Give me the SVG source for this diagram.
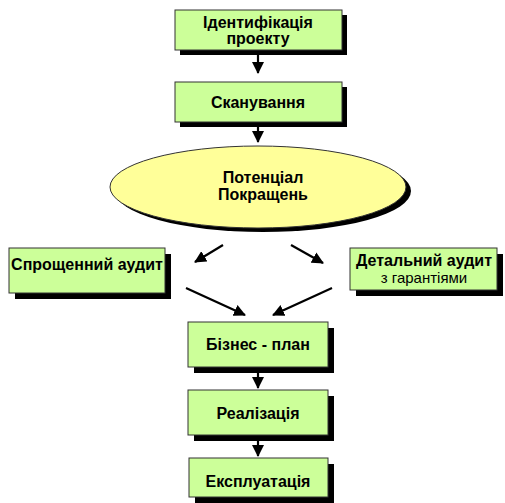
<svg xmlns="http://www.w3.org/2000/svg" width="505" height="503" viewBox="0 0 505 503">
<defs>
<style>
.box{fill:#ccff99;stroke:#333;stroke-width:1}
.ell{fill:#ffff99;stroke:#333;stroke-width:1}
.sh{fill:#000}
.t{font-family:"Liberation Sans",Arial,sans-serif;font-size:16px;font-weight:bold;fill:#000;text-anchor:middle}
.r{font-family:"Liberation Sans",Arial,sans-serif;font-size:15px;fill:#000;text-anchor:middle}
.c{stroke:#000;stroke-width:2.2;fill:none;marker-end:url(#ah)}
</style>
<marker id="ah" markerUnits="userSpaceOnUse" markerWidth="12" markerHeight="12" viewBox="0 0 12 12" refX="11" refY="6" orient="auto">
<path d="M0,0 L12,6 L0,12 Z" fill="#000"/>
</marker>
</defs>
<g id="connectors">
<line class="c" x1="258" y1="55" x2="258" y2="73"/>
<line class="c" x1="258" y1="127" x2="258" y2="142"/>
<line class="c" x1="223" y1="245" x2="195" y2="262"/>
<line class="c" x1="291" y1="245" x2="323" y2="263"/>
<line class="c" x1="186" y1="288" x2="245" y2="315"/>
<line class="c" x1="332" y1="288" x2="273" y2="315"/>
<line class="c" x1="258" y1="372" x2="258" y2="388"/>
<line class="c" x1="258" y1="441" x2="258" y2="456"/>
</g>
<g id="n1">
<rect class="sh" x="180" y="15" width="167" height="40"/>
<rect class="box" x="175" y="10" width="167" height="40"/>
<text class="t" x="258" y="28">Ідентифікація</text>
<text class="t" x="258" y="44">проекту</text>
</g>
<g id="n2">
<rect class="sh" x="180" y="87" width="167" height="40"/>
<rect class="box" x="175" y="82" width="167" height="40"/>
<text class="t" x="258" y="108">Сканування</text>
</g>
<g id="n3">
<ellipse class="sh" cx="263" cy="191" rx="148" ry="41"/>
<ellipse class="ell" cx="258" cy="187" rx="148" ry="41"/>
<text class="t" x="263" y="183">Потенціал</text>
<text class="t" x="263" y="200">Покращень</text>
</g>
<g id="n4">
<rect class="sh" x="15" y="254" width="156" height="45"/>
<rect class="box" x="9" y="248" width="156" height="45"/>
<text class="t" x="87" y="270">Спрощенний аудит</text>
</g>
<g id="n5">
<rect class="sh" x="356" y="254" width="147" height="42"/>
<rect class="box" x="350" y="248" width="147" height="42"/>
<text class="t" x="424" y="266">Детальний аудит</text>
<text class="r" x="424" y="283">з гарантіями</text>
</g>
<g id="n6">
<rect class="sh" x="194" y="328" width="140" height="45"/>
<rect class="box" x="188" y="322" width="140" height="45"/>
<text class="t" x="258" y="350">Бізнес - план</text>
</g>
<g id="n7">
<rect class="sh" x="194" y="396" width="140" height="45"/>
<rect class="box" x="188" y="390" width="140" height="45"/>
<text class="t" x="258" y="419">Реалізація</text>
</g>
<g id="n8">
<rect class="sh" x="195" y="464" width="139" height="39"/>
<rect class="box" x="189" y="458" width="139" height="39"/>
<text class="t" x="258" y="487">Експлуатація</text>
</g>
</svg>
